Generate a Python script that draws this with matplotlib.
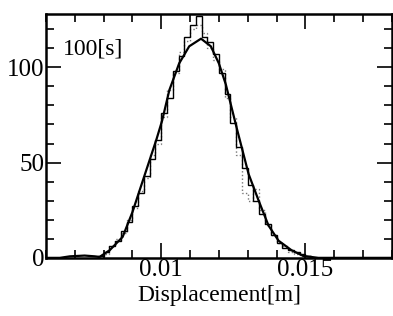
import matplotlib
matplotlib.use("Agg")
import matplotlib.pyplot as plt
from matplotlib.ticker import MultipleLocator

plt.rcParams['font.family'] = ['Liberation Serif', 'DejaVu Serif']

# histogram (bin edges and counts)
bin_edges = [0.0078, 0.0080, 0.0082, 0.0084, 0.0086, 0.0088, 0.0090, 0.0092,
             0.0094, 0.0096, 0.0098, 0.0100, 0.0102, 0.0104, 0.0106, 0.0108,
             0.0110, 0.0112, 0.0114, 0.0116, 0.0118, 0.0120, 0.0122, 0.0124,
             0.0126, 0.0128, 0.0130, 0.0132, 0.0134, 0.0136, 0.0138, 0.0140,
             0.0142, 0.0144, 0.0146, 0.0148, 0.0150, 0.0152]
counts = [1, 3, 6, 9, 14, 19, 27, 34, 43, 52, 62, 76, 84, 98, 106, 116, 122,
          127, 116, 113, 107, 97, 86, 71, 58, 47, 38, 30, 23, 18, 12, 8, 5, 4,
          3, 2, 1]
counts_dotted = [1, 2, 6, 10, 13, 20, 26, 35, 42, 54, 60, 74, 88, 97, 108, 114,
                 120, 122, 118, 110, 104, 99, 84, 74, 54, 34, 30, 36, 25, 17,
                 12, 8, 6, 3, 2, 1, 1]

# smooth fitted curve
curve_x = [0.0060, 0.00648, 0.00683, 0.00734, 0.00769, 0.00786, 0.00821,
           0.00866, 0.00900, 0.00948, 0.00983, 0.01003, 0.01028, 0.01062,
           0.01097, 0.01138, 0.01172, 0.01200, 0.01224, 0.01262, 0.01303,
           0.01338, 0.01372, 0.01407, 0.01452, 0.01493, 0.01545, 0.0180]
curve_y = [0, 0, 0.8, 1.2, 0.8, 0.5, 4, 11, 24, 46, 62, 72, 88, 102, 111, 115,
           111, 102, 91, 68, 44, 30, 17, 9, 4, 1, 0, 0]

fig = plt.figure(figsize=(3.93, 3.16), dpi=100)
ax = fig.add_axes([0.117, 0.184, 0.88, 0.772])

ax.stairs(counts_dotted, bin_edges, color='#777777', linestyle=':', linewidth=1.0)
ax.stairs(counts, bin_edges, color='black', linewidth=1.0)
ax.plot(curve_x, curve_y, color='black', linewidth=1.6)

ax.set_xlim(0.006, 0.018)
ax.set_ylim(0, 128)
ax.xaxis.set_minor_locator(MultipleLocator(0.001))
ax.yaxis.set_minor_locator(MultipleLocator(10))
ax.set_xticks([0.01, 0.015])
ax.set_xticklabels(['0.01', '0.015'])
ax.set_yticks([0, 50, 100])
ax.set_yticklabels(['0', '50', '100'])

ax.tick_params(which='both', direction='in', top=True, right=True, width=1.2,
               labelsize=18, pad=1)
ax.tick_params(which='major', length=11)
ax.tick_params(which='minor', length=6)
for s in ax.spines.values():
    s.set_linewidth(1.8)

ax.text(0.05, 0.90, '100[s]', transform=ax.transAxes, fontsize=17,
        ha='left', va='top')
ax.set_xlabel('Displacement[m]', fontsize=17, labelpad=3)

fig.savefig('out.png', dpi=100, facecolor='white')
